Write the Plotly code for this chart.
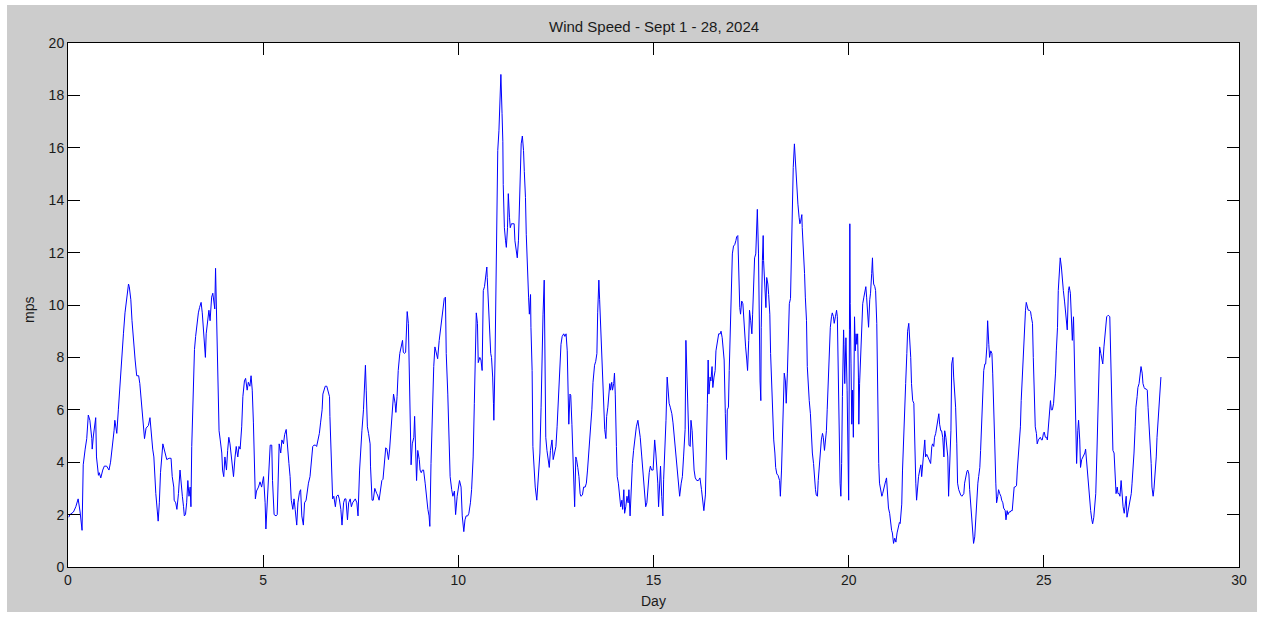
import plotly.graph_objects as go

# Wind speed record, Sept 1 - 28, 2024 (time in days since start, speed in m/s)
day_w1 = [
    0.02, 0.05, 0.14, 0.20, 0.26, 0.31, 0.36, 0.39, 0.44, 0.48,
    0.52, 0.56, 0.61, 0.62, 0.65, 0.69, 0.71, 0.73, 0.78, 0.80,
    0.84, 0.89, 0.93, 0.99, 1.05, 1.09, 1.14, 1.18, 1.20, 1.25,
    1.29, 1.31, 1.35, 1.38, 1.42, 1.46, 1.50, 1.55, 1.57, 1.61,
    1.64, 1.67, 1.72, 1.76, 1.81, 1.84, 1.89, 1.93, 1.96, 2.00,
    2.06, 2.10, 2.13, 2.17, 2.20, 2.23, 2.25, 2.29, 2.31, 2.34,
    2.37, 2.43, 2.46, 2.49, 2.53, 2.59, 2.64, 2.67, 2.71, 2.72,
    2.76, 2.79, 2.83, 2.87, 2.89, 2.93, 2.96, 2.98, 3.01, 3.04,
    3.07, 3.10, 3.13, 3.15, 3.17, 3.20, 3.24, 3.27, 3.31, 3.34,
    3.37, 3.41, 3.44, 3.47, 3.49, 3.52, 3.54, 3.58, 3.61, 3.64,
    3.68, 3.71, 3.73, 3.76, 3.78, 3.81, 3.84, 3.87, 3.90, 3.94,
    3.96, 3.99, 4.02, 4.06, 4.09, 4.12, 4.15, 4.18, 4.21, 4.24,
    4.28, 4.31, 4.35, 4.38, 4.41, 4.45, 4.48, 4.52, 4.55, 4.59,
    4.62, 4.66, 4.69, 4.72, 4.75, 4.77, 4.80, 4.83, 4.88, 4.92,
    4.96, 5.01, 5.05, 5.07, 5.11, 5.15, 5.18, 5.22, 5.24, 5.28,
    5.33, 5.36, 5.39, 5.41, 5.45, 5.48, 5.52, 5.55, 5.59, 5.62,
    5.66, 5.69, 5.72, 5.76, 5.79, 5.82, 5.86, 5.89, 5.93, 5.96,
    5.99, 6.03, 6.06, 6.10, 6.13, 6.16, 6.20, 6.23, 6.27, 6.30,
    6.34, 6.37, 6.41, 6.44, 6.47, 6.51, 6.53, 6.56, 6.59, 6.63,
    6.66, 6.70, 6.71, 6.74, 6.76, 6.78, 6.81, 6.85, 6.88, 6.92,
    6.95, 6.99,
]
mps_w1 = [
    1.9, 2.0, 2.1, 2.3, 2.6, 2.1, 1.4, 3.9, 4.5, 4.9,
    5.8, 5.6, 4.9, 4.5, 5.0, 5.5, 5.7, 4.2, 3.5, 3.6,
    3.4, 3.7, 3.85, 3.85, 3.7, 4.0, 4.6, 5.2, 5.6, 5.1,
    6.0, 6.5, 7.3, 8.2, 8.9, 9.7, 10.3, 10.8, 10.7, 10.2,
    9.4, 8.7, 7.9, 7.3, 7.3, 7.0, 6.0, 5.2, 4.9, 5.3,
    5.4, 5.7, 5.05, 4.5, 4.2, 3.3, 2.8, 2.1, 1.75, 2.45,
    3.6, 4.7, 4.5, 4.3, 4.1, 4.15, 4.15, 3.45, 3.05, 2.55,
    2.45, 2.2, 2.8, 3.7, 3.3, 2.7, 2.3, 1.95, 2.0, 2.45,
    3.3, 2.7, 3.05, 2.3, 4.6, 6.6, 8.3, 8.8, 9.5, 9.7,
    9.9, 10.1, 9.7, 9.1, 8.65, 8.0, 8.9, 9.55, 9.8, 9.4,
    10.3, 10.45, 10.2, 9.85, 11.4, 9.55, 6.75, 5.2, 4.85, 4.35,
    3.7, 3.45, 4.2, 3.7, 4.45, 4.95, 4.7, 4.2, 3.95, 3.45,
    4.2, 4.6, 4.2, 4.6, 4.5, 5.35, 6.5, 7.1, 7.2, 6.75,
    7.05, 6.9, 7.3, 6.75, 5.5, 3.7, 2.6, 2.9, 3.05, 3.25,
    3.05, 3.45, 2.45, 1.45, 2.7, 3.7, 4.65, 4.65, 3.3, 2.0,
    1.95, 2.0, 3.45, 4.7, 4.35, 4.85, 4.7, 5.05, 5.25, 4.8,
    3.95, 3.45, 2.55, 2.2, 2.6, 2.2, 1.6, 2.45, 2.85, 2.95,
    1.95, 1.6, 2.45, 2.55, 2.95, 3.2, 3.45, 3.95, 4.6, 4.65,
    4.65, 4.6, 4.85, 5.1, 5.5, 6.0, 6.6, 6.8, 6.9, 6.9,
    6.75, 6.5, 5.75, 4.45, 3.6, 2.6, 2.7, 2.3, 2.7, 2.75,
    2.6, 2.2,
]

day_w2 = [
    7.02, 7.06, 7.09, 7.12, 7.16, 7.19, 7.23, 7.26, 7.29, 7.33,
    7.36, 7.40, 7.43, 7.47, 7.50, 7.53, 7.57, 7.59, 7.62, 7.64,
    7.67, 7.70, 7.74, 7.75, 7.79, 7.82, 7.86, 7.91, 7.93, 7.97,
    8.00, 8.04, 8.07, 8.10, 8.14, 8.17, 8.21, 8.24, 8.28, 8.31,
    8.34, 8.38, 8.40, 8.43, 8.46, 8.50, 8.53, 8.57, 8.59, 8.62,
    8.65, 8.67, 8.69, 8.72, 8.74, 8.77, 8.79, 8.82, 8.86, 8.88,
    8.91, 8.93, 8.96, 9.00, 9.02, 9.05, 9.08, 9.11, 9.15, 9.18,
    9.22, 9.25, 9.27, 9.30, 9.33, 9.37, 9.40, 9.44, 9.47, 9.51,
    9.54, 9.57, 9.61, 9.64, 9.67, 9.69, 9.73, 9.76, 9.79, 9.83,
    9.86, 9.90, 9.93, 9.97, 10.00, 10.03, 10.07, 10.10, 10.14, 10.17,
    10.20, 10.24, 10.27, 10.31, 10.34, 10.38, 10.41, 10.44, 10.46, 10.49,
    10.51, 10.55, 10.58, 10.61, 10.62, 10.64, 10.67, 10.69, 10.73, 10.74,
    10.77, 10.80, 10.83, 10.85, 10.88, 10.90, 10.91, 10.94, 10.96, 10.98,
    11.01, 11.04, 11.07, 11.09, 11.12, 11.14, 11.15, 11.18, 11.21, 11.23,
    11.26, 11.28, 11.31, 11.33, 11.36, 11.39, 11.43, 11.45, 11.48, 11.51,
    11.54, 11.56, 11.59, 11.61, 11.64, 11.67, 11.69, 11.72, 11.74, 11.77,
    11.80, 11.82, 11.85, 11.86, 11.89, 11.91, 11.94, 11.97, 12.01, 12.03,
    12.06, 12.09, 12.12, 12.14, 12.17, 12.20, 12.21, 12.24, 12.27, 12.30,
    12.33, 12.36, 12.40, 12.43, 12.47, 12.50, 12.53, 12.57, 12.61, 12.63,
    12.66, 12.70, 12.73, 12.76, 12.79, 12.81, 12.83, 12.86, 12.88, 12.91,
    12.93, 12.96, 12.98, 13.01, 13.03, 13.06, 13.09, 13.12, 13.14, 13.18,
    13.21, 13.25, 13.28, 13.31, 13.35, 13.38, 13.42, 13.45, 13.49, 13.52,
    13.55, 13.57, 13.60, 13.62, 13.65, 13.67, 13.70, 13.72, 13.75, 13.78,
    13.80, 13.83, 13.85, 13.88, 13.90, 13.93, 13.95, 13.98,
]
mps_w2 = [
    1.6, 2.45, 2.6, 2.6, 1.8, 2.45, 2.6, 2.3, 2.45, 2.55,
    2.6, 2.45, 1.95, 3.7, 4.6, 5.2, 6.0, 7.0, 7.7, 6.75,
    5.35, 5.1, 4.7, 3.85, 2.55, 2.55, 3.0, 2.8, 2.75, 2.55,
    2.95, 3.3, 3.35, 3.85, 4.55, 4.5, 4.1, 4.5, 5.5, 6.25,
    6.6, 6.25, 5.9, 6.5, 7.5, 8.15, 8.4, 8.65, 8.2, 8.15,
    8.2, 8.9, 9.75, 9.3, 7.9, 5.9, 3.9, 4.7, 4.95, 5.75,
    4.45, 3.3, 4.45, 4.1, 3.7, 3.6, 3.7, 3.7, 3.2, 2.7,
    2.2, 1.95, 1.55, 3.95, 6.0, 7.65, 8.4, 8.15, 7.95, 8.65,
    9.0, 9.55, 10.0, 10.25, 10.3, 8.15, 6.6, 4.95, 3.45, 2.95,
    2.7, 2.9, 2.0, 2.7, 2.95, 3.3, 3.05, 1.95, 1.35, 1.8,
    1.95, 1.95, 2.05, 2.45, 2.95, 4.2, 6.25, 8.0, 9.7, 9.3,
    7.8, 8.0, 7.9, 7.5, 9.0, 10.55, 10.7, 10.95, 11.45, 11.05,
    10.05, 8.9, 8.15, 8.0, 7.25, 6.25, 5.6, 7.9, 10.3, 14.5,
    15.9, 16.65, 17.65, 18.8, 17.3, 16.25, 14.6, 12.95, 12.45, 12.2,
    12.95, 14.25, 13.35, 12.95, 13.1, 13.1, 13.1, 12.45, 12.2, 11.8,
    12.45, 13.7, 15.1, 16.15, 16.45, 15.9, 15.1, 14.1, 12.7, 10.95,
    10.3, 9.65, 10.4, 9.15, 7.5, 4.6, 3.7, 3.05, 2.55, 2.95,
    3.7, 4.35, 6.1, 7.75, 9.65, 10.95, 8.15, 4.95, 4.45, 4.1,
    3.8, 4.45, 4.85, 4.1, 4.45, 4.6, 5.35, 6.75, 8.15, 8.5,
    8.8, 8.9, 8.8, 8.9, 8.25, 6.6, 5.45, 6.6, 6.55, 5.45,
    4.45, 3.45, 2.3, 4.2, 4.1, 3.8, 3.45, 2.8, 2.7, 2.75,
    3.05, 3.05, 3.2, 3.7, 4.45, 5.1, 6.0, 7.05, 7.7, 7.85,
    8.15, 9.7, 10.95, 10.2, 8.9, 7.9, 7.25, 6.05, 5.25, 4.9,
    5.75, 6.1, 6.6, 7.0, 6.75, 7.05, 6.75, 7.0,
]

day_w3 = [
    14.00, 14.02, 14.05, 14.07, 14.10, 14.13, 14.16, 14.19, 14.21, 14.24,
    14.26, 14.29, 14.32, 14.35, 14.37, 14.40, 14.42, 14.46, 14.49, 14.53,
    14.56, 14.60, 14.63, 14.66, 14.70, 14.73, 14.77, 14.80, 14.83, 14.85,
    14.89, 14.92, 14.95, 14.99, 15.01, 15.03, 15.06, 15.08, 15.11, 15.13,
    15.16, 15.18, 15.21, 15.24, 15.26, 15.30, 15.32, 15.35, 15.37, 15.40,
    15.43, 15.47, 15.50, 15.53, 15.57, 15.60, 15.64, 15.67, 15.71, 15.74,
    15.77, 15.81, 15.83, 15.86, 15.88, 15.91, 15.94, 15.96, 15.99, 16.01,
    16.04, 16.07, 16.11, 16.15, 16.19, 16.23, 16.26, 16.29, 16.33, 16.35,
    16.38, 16.40, 16.42, 16.45, 16.47, 16.50, 16.52, 16.55, 16.58, 16.60,
    16.64, 16.67, 16.71, 16.73, 16.76, 16.79, 16.81, 16.84, 16.87, 16.89,
    16.92, 16.94, 16.97, 17.00, 17.02, 17.05, 17.08, 17.11, 17.13, 17.16,
    17.18, 17.21, 17.23, 17.26, 17.29, 17.31, 17.34, 17.36, 17.39, 17.41,
    17.44, 17.46, 17.49, 17.52, 17.54, 17.57, 17.59, 17.62, 17.64, 17.66,
    17.69, 17.71, 17.73, 17.75, 17.76, 17.79, 17.81, 17.82, 17.85, 17.88,
    17.90, 17.93, 17.95, 17.98, 18.00, 18.03, 18.05, 18.08, 18.11, 18.13,
    18.16, 18.19, 18.23, 18.25, 18.28, 18.30, 18.33, 18.35, 18.38, 18.40,
    18.43, 18.46, 18.48, 18.51, 18.53, 18.56, 18.58, 18.61, 18.65, 18.68,
    18.70, 18.73, 18.75, 18.77, 18.80, 18.81, 18.84, 18.87, 18.89, 18.92,
    18.94, 18.97, 18.99, 19.02, 19.04, 19.07, 19.10, 19.12, 19.15, 19.17,
    19.20, 19.22, 19.25, 19.28, 19.30, 19.33, 19.35, 19.38, 19.40, 19.43,
    19.45, 19.48, 19.51, 19.53, 19.56, 19.58, 19.61, 19.63, 19.66, 19.69,
    19.71, 19.73, 19.75, 19.78, 19.80, 19.82, 19.84, 19.87, 19.88, 19.90,
    19.92, 19.93, 19.96, 19.99, 20.00, 20.02, 20.03, 20.04, 20.06, 20.08,
    20.10, 20.12, 20.14, 20.15, 20.17, 20.19, 20.21, 20.23, 20.25, 20.26,
    20.28, 20.31, 20.33, 20.36, 20.39, 20.41, 20.44, 20.46, 20.49, 20.51,
    20.54, 20.56, 20.59, 20.61, 20.62, 20.64, 20.67, 20.69, 20.72, 20.74,
    20.77, 20.79, 20.82, 20.85, 20.87, 20.90, 20.92, 20.95, 20.97,
]
mps_w3 = [
    7.4, 6.6, 4.6, 3.45, 3.2, 2.7, 2.3, 2.55, 2.2, 2.95,
    2.05, 2.3, 2.7, 2.45, 2.95, 1.95, 2.75, 3.95, 4.45, 4.95,
    5.35, 5.6, 5.35, 4.95, 4.2, 3.7, 2.95, 2.3, 2.45, 2.95,
    3.6, 3.85, 3.7, 3.7, 4.2, 4.85, 4.35, 3.95, 3.2, 2.3,
    3.2, 3.85, 2.7, 1.95, 3.35, 4.6, 5.6, 7.25, 6.9, 6.25,
    6.1, 5.85, 5.5, 4.95, 4.45, 3.95, 3.05, 2.7, 3.2, 3.45,
    4.2, 5.25, 8.65, 7.4, 6.1, 4.65, 4.6, 5.6, 5.2, 4.35,
    3.7, 3.4, 3.3, 3.3, 3.4, 2.95, 2.55, 2.15, 2.75, 3.8,
    6.25, 7.9, 6.6, 7.25, 7.1, 7.65, 6.85, 7.25, 7.5, 8.25,
    8.75, 8.9, 8.9, 9.0, 8.75, 8.25, 7.9, 5.85, 4.1, 6.0,
    6.1, 7.5, 8.9, 10.7, 11.95, 12.25, 12.3, 12.45, 12.6, 12.65,
    11.45, 9.9, 9.65, 10.15, 10.05, 9.4, 8.65, 8.4, 7.9, 7.5,
    8.65, 9.8, 9.4, 8.9, 9.65, 10.95, 11.8, 11.95, 12.95, 13.65,
    11.95, 9.15, 7.1, 6.35, 9.15, 11.7, 12.65, 11.7, 10.4, 9.9,
    11.05, 10.8, 10.4, 9.65, 8.15, 6.75, 6.0, 4.85, 4.35, 3.8,
    3.55, 3.5, 3.3, 2.7, 3.7, 5.1, 6.1, 7.4, 7.1, 6.25,
    7.4, 9.15, 10.05, 10.25, 11.95, 13.85, 15.25, 16.15, 14.85, 14.25,
    13.85, 13.35, 13.1, 13.2, 13.45, 12.95, 12.2, 11.2, 10.3, 9.4,
    7.65, 6.5, 6.35, 5.85, 5.1, 4.35, 3.95, 3.3, 2.95, 2.75,
    2.7, 3.3, 3.95, 4.2, 4.85, 5.1, 4.95, 4.45, 4.85, 5.2,
    6.0, 7.5, 8.75, 9.15, 9.55, 9.7, 9.55, 9.3, 9.55, 9.8,
    9.55, 7.75, 4.45, 3.2, 2.7, 3.95, 6.5, 9.05, 8.5, 7.0,
    7.75, 8.75, 6.75, 4.1, 2.55, 9.05, 13.1, 10.05, 7.75, 5.45,
    6.75, 4.95, 7.9, 9.55, 8.25, 8.9, 8.5, 8.9, 7.25, 5.45,
    7.0, 8.25, 9.3, 10.05, 10.3, 10.55, 10.7, 10.3, 9.55, 9.15,
    10.2, 10.45, 11.2, 11.8, 11.3, 10.8, 10.7, 10.55, 9.3, 6.25,
    3.95, 3.2, 2.95, 2.7, 2.8, 3.0, 3.2, 3.3, 3.4,
]

day_w4 = [
    21.00, 21.02, 21.05, 21.07, 21.10, 21.12, 21.15, 21.18, 21.21, 21.24,
    21.27, 21.30, 21.32, 21.36, 21.38, 21.41, 21.44, 21.46, 21.49, 21.51,
    21.54, 21.56, 21.59, 21.61, 21.64, 21.67, 21.69, 21.72, 21.74, 21.77,
    21.79, 21.82, 21.85, 21.87, 21.90, 21.92, 21.95, 21.97, 22.00, 22.03,
    22.05, 22.08, 22.10, 22.13, 22.15, 22.18, 22.20, 22.23, 22.26, 22.28,
    22.31, 22.33, 22.36, 22.38, 22.41, 22.44, 22.46, 22.49, 22.51, 22.54,
    22.56, 22.59, 22.62, 22.64, 22.67, 22.69, 22.72, 22.74, 22.77, 22.79,
    22.82, 22.85, 22.87, 22.90, 22.92, 22.95, 22.97, 23.00, 23.03, 23.05,
    23.08, 23.10, 23.13, 23.15, 23.18, 23.20, 23.23, 23.26, 23.28, 23.31,
    23.33, 23.36, 23.38, 23.41, 23.43, 23.46, 23.49, 23.51, 23.54, 23.56,
    23.59, 23.61, 23.64, 23.67, 23.69, 23.72, 23.74, 23.77, 23.79, 23.82,
    23.84, 23.87, 23.90, 23.92, 23.95, 23.97, 24.01, 24.03, 24.06, 24.08,
    24.11, 24.14, 24.16, 24.19, 24.21, 24.24, 24.26, 24.30, 24.32, 24.35,
    24.37, 24.40, 24.42, 24.45, 24.48, 24.50, 24.53, 24.55, 24.58, 24.60,
    24.63, 24.66, 24.68, 24.71, 24.73, 24.76, 24.78, 24.81, 24.83, 24.86,
    24.89, 24.91, 24.94, 24.96, 24.99, 25.01, 25.04, 25.07, 25.09, 25.12,
    25.14, 25.17, 25.19, 25.22, 25.25, 25.27, 25.30, 25.32, 25.35, 25.37,
    25.40, 25.42, 25.45, 25.47, 25.50, 25.53, 25.55, 25.58, 25.60, 25.63,
    25.65, 25.68, 25.71, 25.73, 25.76, 25.78, 25.80, 25.82, 25.84, 25.87,
    25.89, 25.92, 25.94, 25.97, 26.00, 26.02, 26.05, 26.07, 26.10, 26.12,
    26.15, 26.18, 26.20, 26.23, 26.25, 26.28, 26.30, 26.33, 26.36, 26.38,
    26.41, 26.43, 26.46, 26.48, 26.51, 26.54, 26.56, 26.59, 26.61, 26.64,
    26.66, 26.69, 26.72, 26.75, 26.77, 26.80, 26.83, 26.85, 26.88, 26.90,
    26.93, 26.95, 26.98, 27.00, 27.03, 27.06, 27.08, 27.11, 27.13, 27.16,
    27.18, 27.21, 27.24, 27.26, 27.29, 27.31, 27.34, 27.36, 27.39, 27.41,
    27.44, 27.47, 27.49, 27.52, 27.54, 27.57, 27.59, 27.62, 27.65, 27.67,
    27.70, 27.72, 27.75, 27.77, 27.80, 27.82, 27.85, 27.88, 27.90, 27.93,
    27.95, 27.98, 28.00,
]
mps_w4 = [
    2.55, 2.25, 2.05, 1.65, 1.4, 1.3, 0.9, 1.1, 0.95, 1.3,
    1.5, 1.7, 1.66, 2.4, 3.7, 5.2, 6.1, 7.0, 8.15, 9.0,
    9.3, 8.9, 8.0, 7.0, 6.35, 6.25, 4.45, 3.2, 2.55, 3.2,
    3.45, 3.7, 3.9, 3.45, 4.1, 4.45, 4.85, 4.2, 4.3, 4.2,
    4.1, 3.95, 3.95, 4.6, 4.7, 4.6, 4.95, 5.1, 5.45, 5.6,
    5.85, 5.45, 5.2, 5.2, 4.95, 4.2, 5.2, 4.95, 4.7, 4.2,
    2.7, 3.7, 5.2, 7.75, 8.0, 7.25, 6.75, 6.1, 4.7, 3.2,
    2.95, 2.8, 2.75, 2.7, 2.75, 2.8, 3.2, 3.45, 3.65, 3.7,
    3.55, 2.95, 2.3, 1.65, 1.15, 0.9, 1.15, 2.05, 2.7, 3.2,
    3.45, 3.8, 4.45, 5.45, 6.5, 7.5, 7.75, 7.75, 8.4, 9.4,
    8.5, 8.0, 8.25, 8.15, 7.4, 6.25, 4.85, 3.2, 2.45, 2.7,
    2.95, 2.8, 2.7, 2.55, 2.45, 2.25, 2.15, 1.8, 2.15, 2.0,
    2.1, 2.1, 2.15, 2.15, 2.55, 3.05, 3.05, 3.1, 3.7, 4.45,
    4.85, 5.35, 6.35, 7.25, 8.65, 9.3, 9.8, 10.1, 9.9, 9.8,
    9.8, 9.75, 9.55, 9.3, 8.0, 6.6, 5.35, 5.1, 4.7, 4.85,
    4.9, 4.95, 4.85, 4.85, 5.1, 5.15, 4.95, 4.95, 4.85, 5.35,
    6.0, 6.35, 6.0, 6.0, 6.25, 6.6, 7.4, 8.25, 9.15, 10.55,
    11.3, 11.8, 11.45, 10.95, 10.55, 10.15, 9.9, 9.3, 9.05, 10.55,
    10.7, 10.45, 9.4, 8.65, 9.55, 8.25, 6.5, 4.95, 3.95, 5.2,
    5.6, 4.85, 3.8, 4.1, 4.2, 4.2, 4.35, 4.5, 3.95, 3.3,
    2.8, 2.55, 2.15, 1.8, 1.65, 1.9, 2.3, 2.8, 4.35, 5.6,
    7.1, 8.4, 8.15, 7.9, 7.75, 8.4, 8.75, 9.4, 9.55, 9.6,
    9.6, 9.55, 7.9, 5.45, 4.45, 4.35, 3.55, 2.8, 3.05, 2.8,
    2.8, 2.7, 3.3, 2.8, 2.3, 2.05, 2.45, 2.7, 1.9, 2.15,
    2.45, 2.7, 2.8, 3.2, 3.7, 4.35, 5.35, 6.1, 6.5, 6.85,
    7.0, 7.4, 7.65, 7.4, 7.0, 6.85, 6.8, 6.8, 6.75, 6.1,
    5.35, 4.85, 3.95, 3.05, 2.7, 2.95, 3.55, 4.2, 4.95, 5.7,
    6.35, 6.85, 7.25,
]

x_ticks = [0, 5, 10, 15, 20, 25, 30]
y_ticks = [0, 2, 4, 6, 8, 10, 12, 14, 16, 18, 20]

days = day_w1 + day_w2 + day_w3 + day_w4
speeds = mps_w1 + mps_w2 + mps_w3 + mps_w4
assert len(days) == len(speeds)

FONT = "Liberation Sans, Arial, sans-serif"
INK = "#1a1a1a"

fig = go.Figure(
    go.Scatter(
        x=days,
        y=speeds,
        mode="lines",
        line=dict(color="#0000ff", width=1),
        hoverinfo="skip",
    )
)

axis_common = dict(
    showline=True,
    linecolor="#000000",
    linewidth=1,
    mirror="ticks",
    ticks="inside",
    ticklen=12,
    tickwidth=1,
    tickcolor="#000000",
    showgrid=False,
    zeroline=False,
    tickfont=dict(family=FONT, size=14, color=INK),
)

fig.update_xaxes(range=[0, 30], tickvals=x_ticks, **axis_common)
fig.update_yaxes(range=[0, 20], tickvals=y_ticks, **axis_common)

# thin white frame around the grey figure window
edge = dict(type="rect", xref="paper", yref="paper", fillcolor="white",
            line=dict(width=0), layer="below")
shapes = [
    dict(x0=-0.2, x1=1.2, y0=1.0725, y1=1.2, **edge),
    dict(x0=-0.2, x1=-0.0521, y0=-0.2, y1=1.2, **edge),
    dict(x0=1.0154, x1=1.2, y0=-0.2, y1=1.2, **edge),
    dict(x0=-0.2, x1=1.2, y0=-0.2, y1=-0.0859, **edge),
]

annotations = [
    dict(text="Wind Speed - Sept 1 - 28, 2024", x=0.5, y=1.0324,
         xref="paper", yref="paper", xanchor="center", yanchor="middle",
         showarrow=False, font=dict(family=FONT, size=15, color=INK)),
    dict(text="Day", x=0.5, y=-0.0649, xref="paper", yref="paper",
         xanchor="center", yanchor="middle", showarrow=False,
         font=dict(family=FONT, size=14, color=INK)),
    dict(text="mps", x=-0.0335, y=0.49, xref="paper", yref="paper",
         xanchor="center", yanchor="middle", textangle=-90, showarrow=False,
         font=dict(family=FONT, size=14, color=INK)),
]

fig.update_layout(
    width=1262,
    height=617,
    margin=dict(l=68, r=23, t=43, b=50),
    paper_bgcolor="#cccccc",
    plot_bgcolor="#ffffff",
    showlegend=False,
    shapes=shapes,
    annotations=annotations,
)

fig.write_html("out.html")
